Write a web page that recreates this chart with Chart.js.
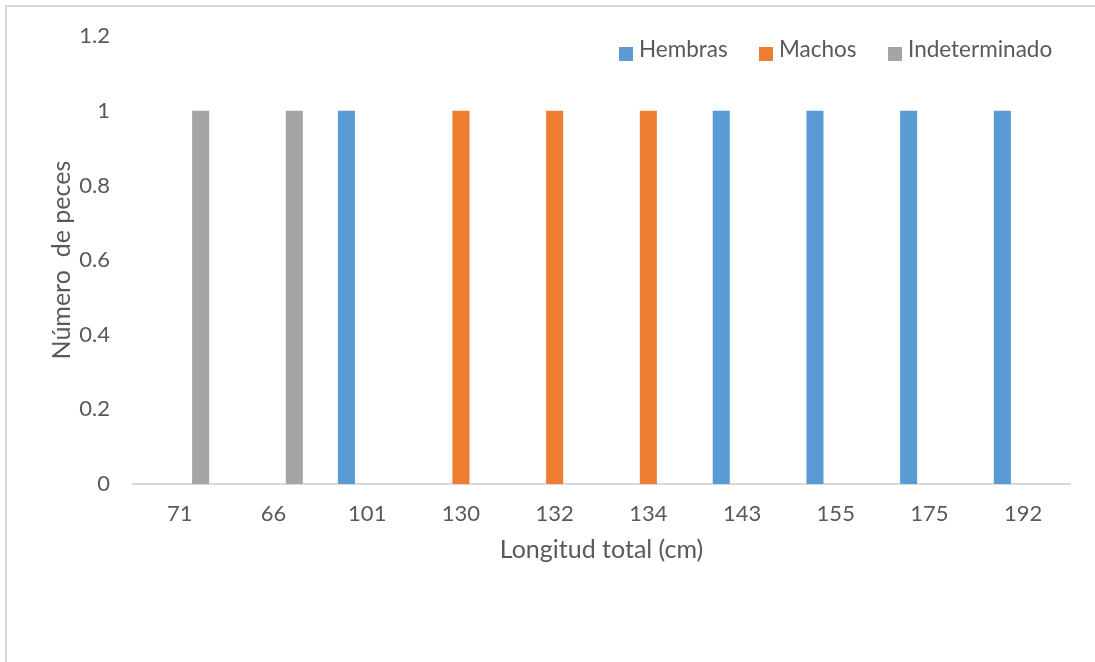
<!DOCTYPE html>
<html>
<head>
<meta charset="utf-8">
<script src="https://cdn.jsdelivr.net/npm/chart.js@4.4.1/dist/chart.umd.min.js"></script>
<style>
  html, body { margin: 0; padding: 0; background: #ffffff; }
  #wrap { position: relative; width: 1095px; height: 662px; overflow: hidden; }
  #frame {
    position: absolute; left: 5px; top: 5px; width: 1200px; height: 800px;
    border-left: 2px solid #d9d9d9; border-top: 2px solid #d9d9d9;
    pointer-events: none;
  }
  canvas { position: absolute; left: 0; top: 0; }
</style>
</head>
<body>
<div id="wrap">
  <canvas id="chart" width="1095" height="662"></canvas>
  <div id="frame"></div>
</div>
<script>
// Longitud total de cada pez (cm), en el orden del muestreo
const categories = ['71', '66', '101', '130', '132', '134', '143', '155', '175', '192'];

// Número de peces por sexo en cada longitud
const hembras       = [null, null, 1, null, null, null, 1, 1, 1, 1];
const machos        = [null, null, null, 1, 1, 1, null, null, null, null];
const indeterminado = [1, 1, null, null, null, null, null, null, null, null];

const seriesNames = ['Hembras', 'Machos', 'Indeterminado'];
const yTicks = [0, 0.2, 0.4, 0.6, 0.8, 1, 1.2];

const colors = ['#5b9bd5', '#ed7d31', '#a5a5a5'];
const textColor = '#595959';
const fontFamily = 'Lato, "Open Sans", sans-serif';

// Legend drawn inside the plot area, top right
const legendPlugin = {
  id: 'cornerLegend',
  afterDraw(chart) {
    const ctx = chart.ctx;
    const itemX = [619, 759, 888];
    ctx.save();
    ctx.font = '22.5px ' + fontFamily;
    ctx.textBaseline = 'alphabetic';
    ctx.textAlign = 'left';
    chart.data.datasets.forEach((ds, i) => {
      const x = itemX[i];
      ctx.fillStyle = ds.backgroundColor;
      ctx.fillRect(x, 47, 14, 14);
      ctx.fillStyle = textColor;
      ctx.fillText(ds.label, x + 20, 57);
    });
    ctx.restore();
  }
};

new Chart(document.getElementById('chart'), {
  type: 'bar',
  data: {
    labels: categories,
    datasets: [
      { label: seriesNames[0], data: hembras, backgroundColor: colors[0] },
      { label: seriesNames[1], data: machos, backgroundColor: colors[1] },
      { label: seriesNames[2], data: indeterminado, backgroundColor: colors[2] }
    ]
  },
  options: {
    responsive: false,
    animation: false,
    devicePixelRatio: 1,
    layout: { padding: { top: 35, right: 25, left: 0, bottom: 0 } },
    datasets: {
      bar: { categoryPercentage: 0.666, barPercentage: 0.82 }
    },
    plugins: {
      legend: { display: false },
      tooltip: { enabled: false }
    },
    scales: {
      x: {
        grid: { display: false, drawTicks: false },
        border: { display: true, color: '#d9d9d9', width: 2 },
        ticks: {
          color: textColor,
          font: { family: fontFamily, size: 22 },
          padding: 17,
          maxRotation: 0
        },
        title: {
          display: true,
          text: 'Longitud total (cm)',
          color: textColor,
          font: { family: fontFamily, size: 25 },
          padding: { top: 0, bottom: 97 }
        },
        afterFit(scale) { scale.height = 178; }
      },
      y: {
        min: 0,
        max: 1.2,
        afterBuildTicks(scale) { scale.ticks = yTicks.map(v => ({ value: v })); },
        grid: { display: false, drawTicks: false },
        border: { display: false },
        ticks: {
          color: textColor,
          font: { family: fontFamily, size: 22 },
          padding: 23,
          callback: v => String(v)
        },
        title: {
          display: true,
          text: 'Número  de peces',
          color: textColor,
          font: { family: fontFamily, size: 25 },
          padding: { top: 47, bottom: 0 }
        },
        afterFit(scale) { scale.width = 133; }
      }
    }
  },
  plugins: [legendPlugin]
});
</script>
</body>
</html>
